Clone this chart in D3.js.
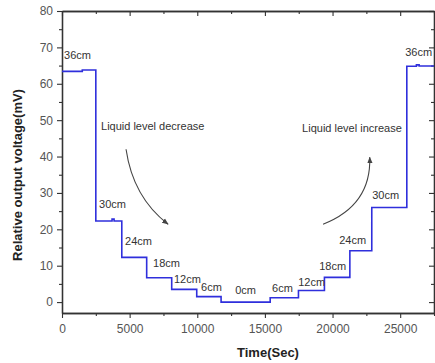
<!DOCTYPE html>
<html>
<head>
<meta charset="utf-8">
<script src="https://cdn.jsdelivr.net/npm/d3@7"></script>
<style>
  body { margin: 0; background: #fff; }
  text { font-family: "Liberation Sans", Arial, sans-serif; }
</style>
</head>
<body>
<div id="chart"></div>
<script>
var times = [0, 1500, 2500, 3700, 3850, 4420, 6260, 8110, 9960, 11760, 15390, 17480, 19400, 21280, 22900, 25490, 26200, 26400, 27500];
var volts = [63.4, 63.8, 22.3, 22.8, 22.3, 12.3, 6.7, 3.5, 1.5, 0.0, 1.2, 3.2, 6.8, 14.1, 26.0, 64.8, 65.2, 64.9, 64.9];

// level labels next to each step
var levelNames = ["36cm", "30cm", "24cm", "18cm", "12cm", "6cm", "0cm", "6cm", "12cm", "18cm", "24cm", "30cm", "36cm"];
var levelT = [150, 2740, 4660, 6730, 8280, 10280, 12800, 15530, 17460, 19010, 20490, 22930, 25370];
var levelV = [66.8, 25.8, 15.7, 9.6, 5.2, 3.0, 2.2, 2.7, 4.4, 8.8, 15.9, 28.3, 67.6];

var xTicks = [0, 5000, 10000, 15000, 20000, 25000];
var yTicks = [0, 10, 20, 30, 40, 50, 60, 70, 80];

// set the dimensions and margins of the graph
var margin = {top: 11, right: 1, bottom: 50, left: 62},
    width = 435 - margin.left - margin.right,
    height = 363 - margin.top - margin.bottom;

var svg = d3.select("#chart")
  .append("svg")
    .attr("width", 435)
    .attr("height", 363)
  .append("g")
    .attr("transform", "translate(" + margin.left + "," + margin.top + ")");

var x = d3.scaleLinear().domain([0, 27500]).range([0, width]);
var y = d3.scaleLinear().domain([-3, 80]).range([height, 0]);

var axisColor = "#333";
var labelColor = "#555";

function styleAxis(g) {
  g.selectAll("path").attr("stroke", axisColor).attr("stroke-width", 1.3);
  g.selectAll("line").attr("stroke", axisColor).attr("stroke-width", 1.1);
  g.selectAll("text").attr("fill", labelColor).style("font-size", "12px");
}

var xMinor = d3.range(0, 27501, 2500).filter(function(d) { return d % 5000 != 0; });
var yMinor = d3.range(-0, 81, 5).filter(function(d) { return d % 10 != 0; });

// bottom axis
svg.append("g")
  .attr("transform", "translate(0," + height + ")")
  .call(d3.axisBottom(x).tickValues(xTicks).tickFormat(d3.format("d")).tickSize(5).tickPadding(6).tickSizeOuter(0))
  .call(styleAxis);
svg.append("g")
  .attr("transform", "translate(0," + height + ")")
  .call(d3.axisBottom(x).tickValues(xMinor).tickFormat("").tickSize(3).tickSizeOuter(0))
  .call(styleAxis);

// left axis
svg.append("g")
  .call(d3.axisLeft(y).tickValues(yTicks).tickSize(5).tickPadding(4).tickSizeOuter(0))
  .call(styleAxis);
svg.append("g")
  .call(d3.axisLeft(y).tickValues(yMinor).tickFormat("").tickSize(3).tickSizeOuter(0))
  .call(styleAxis);

// top and right mirror axes, ticks pointing inside
svg.append("g")
  .call(d3.axisTop(x).tickValues(xTicks).tickFormat("").tickSize(-5).tickSizeOuter(0))
  .call(styleAxis);
svg.append("g")
  .call(d3.axisTop(x).tickValues(xMinor).tickFormat("").tickSize(-3).tickSizeOuter(0))
  .call(styleAxis);
svg.append("g")
  .attr("transform", "translate(" + width + ",0)")
  .call(d3.axisRight(y).tickValues(yTicks).tickFormat("").tickSize(-5).tickSizeOuter(0))
  .call(styleAxis);
svg.append("g")
  .attr("transform", "translate(" + width + ",0)")
  .call(d3.axisRight(y).tickValues(yMinor).tickFormat("").tickSize(-3).tickSizeOuter(0))
  .call(styleAxis);

// clip for the signal
svg.append("clipPath").attr("id", "clip")
  .append("rect").attr("width", width).attr("height", height);

var line = d3.line()
  .x(function(d, i) { return x(times[i]); })
  .y(function(d, i) { return y(volts[i]); })
  .curve(d3.curveStepAfter);

svg.append("path")
  .datum(volts)
  .attr("clip-path", "url(#clip)")
  .attr("fill", "none")
  .attr("stroke", "#2f2fdc")
  .attr("stroke-width", 1.6)
  .attr("d", line);

// level labels
svg.append("g")
  .selectAll("text")
  .data(levelNames)
  .enter()
  .append("text")
    .attr("x", function(d, i) { return x(levelT[i]); })
    .attr("y", function(d, i) { return y(levelV[i]); })
    .attr("fill", "#333")
    .style("font-size", "11px")
    .text(function(d) { return d; });

// annotations
svg.append("text")
  .attr("x", x(2885)).attr("y", y(47.3))
  .attr("fill", "#333").style("font-size", "11px")
  .text("Liquid level decrease");
svg.append("text")
  .attr("x", x(17750)).attr("y", y(46.7))
  .attr("fill", "#333").style("font-size", "11px")
  .text("Liquid level increase");

svg.append("defs").append("marker")
  .attr("id", "head")
  .attr("viewBox", "0 0 10 10")
  .attr("refX", 9).attr("refY", 5)
  .attr("markerWidth", 6).attr("markerHeight", 6)
  .attr("orient", "auto")
  .append("path").attr("d", "M0,1L10,5L0,9z").attr("fill", "#444");

// curved arrows (start, control, end in data units)
var arrows = [
  [[4734, 42.0], [5250, 28.8], [7840, 21.4]],
  [[19300, 21.4], [22870, 26.6], [22750, 39.8]]
];
svg.append("g")
  .selectAll("path")
  .data(arrows)
  .enter()
  .append("path")
    .attr("d", function(a) {
      return "M" + x(a[0][0]) + "," + y(a[0][1]) +
             "Q" + x(a[1][0]) + "," + y(a[1][1]) + " " + x(a[2][0]) + "," + y(a[2][1]);
    })
    .attr("fill", "none")
    .attr("stroke", "#444")
    .attr("stroke-width", 1.1)
    .attr("marker-end", "url(#head)");

// axis titles
svg.append("text")
  .attr("x", width / 2 + 20)
  .attr("y", height + 44)
  .attr("text-anchor", "middle")
  .attr("fill", "#222")
  .style("font-size", "13px")
  .style("font-weight", "bold")
  .text("Time(Sec)");

svg.append("text")
  .attr("transform", "translate(" + (-40) + "," + (height / 2 + 13) + ") rotate(-90)")
  .attr("text-anchor", "middle")
  .attr("fill", "#222")
  .style("font-size", "13px")
  .style("font-weight", "bold")
  .text("Relative output voltage(mV)");
</script>
</body>
</html>
